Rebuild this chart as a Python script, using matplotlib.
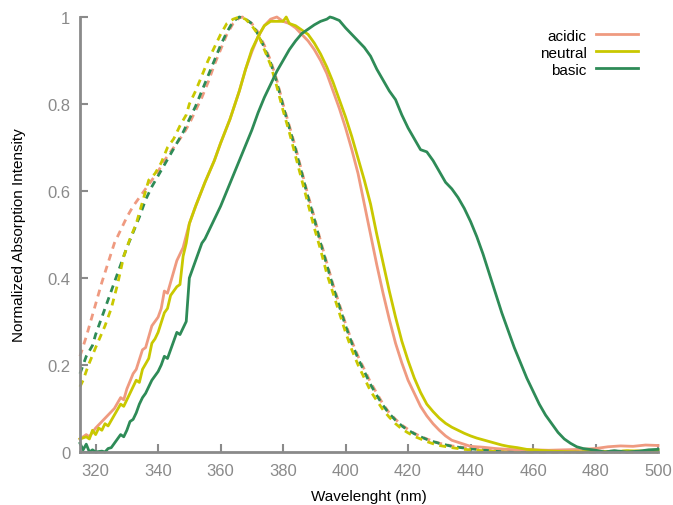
import matplotlib
matplotlib.use("Agg")
import matplotlib.pyplot as plt

plt.rcParams['font.family'] = ['Liberation Sans', 'DejaVu Sans']

# ---- data ----
wl_acid = [315, 317, 318, 320, 322, 324, 326, 328, 329, 330, 332, 333, 335, 336, 338, 340, 341, 342, 343, 344,
           346, 348, 350, 352, 355, 358, 360, 363, 366, 368, 370, 372, 374, 376, 378, 380, 382, 384, 386, 388,
           390, 392, 394, 396, 398, 400, 402, 404, 406, 408, 410, 412, 414, 416, 418, 420, 422, 424, 426, 428,
           430, 432, 434, 437, 440, 444, 448, 452, 456, 460, 465, 470, 475, 480, 484, 488, 492, 496, 500]
acid = [0.03, 0.04, 0.035, 0.055, 0.07, 0.085, 0.10, 0.125, 0.12, 0.145, 0.18, 0.19, 0.235, 0.24, 0.29, 0.31, 0.33, 0.37, 0.365, 0.39,
        0.44, 0.47, 0.525, 0.565, 0.62, 0.67, 0.71, 0.765, 0.83, 0.88, 0.92, 0.955, 0.98, 0.995, 1.0, 0.99, 0.985, 0.975, 0.96, 0.945,
        0.925, 0.9, 0.87, 0.83, 0.79, 0.745, 0.695, 0.64, 0.57, 0.50, 0.43, 0.365, 0.305, 0.25, 0.205, 0.165, 0.135, 0.105, 0.083, 0.065,
        0.05, 0.037, 0.027, 0.02, 0.013, 0.011, 0.008, 0.006, 0.005, 0.005, 0.004, 0.005, 0.006, 0.008, 0.012, 0.014, 0.013, 0.016, 0.015]

wl_neut = [315, 317, 318, 319, 320, 321, 322, 323, 324, 326, 328, 329, 331, 333, 334, 335, 337, 338, 339, 340,
           342, 343, 344, 345, 346, 347, 348, 349, 350, 352, 355, 358, 360, 363, 366, 368, 370, 372, 374, 376,
           378, 380, 381, 382, 384, 386, 388, 390, 392, 394, 396, 398, 400, 402, 404, 406, 408, 410, 412, 414,
           416, 418, 420, 422, 424, 426, 428, 430, 432, 434, 436, 438, 440, 442, 444, 446, 448, 450, 452, 455,
           458, 462, 466, 470, 475, 480, 485, 490, 495, 500]
neut = [0.03, 0.035, 0.03, 0.05, 0.04, 0.055, 0.05, 0.065, 0.06, 0.085, 0.11, 0.105, 0.135, 0.165, 0.16, 0.19, 0.215, 0.25, 0.26, 0.275,
        0.32, 0.33, 0.36, 0.37, 0.38, 0.385, 0.45, 0.48, 0.525, 0.565, 0.62, 0.67, 0.71, 0.765, 0.83, 0.88, 0.925, 0.955, 0.98, 0.99,
        0.99, 0.99, 1.0, 0.985, 0.98, 0.97, 0.96, 0.94, 0.915, 0.885, 0.85, 0.81, 0.77, 0.725, 0.675, 0.625, 0.57, 0.50, 0.435, 0.37,
        0.31, 0.255, 0.21, 0.17, 0.137, 0.11, 0.093, 0.078, 0.066, 0.057, 0.05, 0.043, 0.037, 0.032, 0.028, 0.024, 0.02, 0.016, 0.013, 0.01,
        0.006, 0.004, 0.002, 0.001, 0.0, 0.002, 0.0, 0.003, 0.002, 0.005]

wl_basic = [315, 316, 317, 318, 319, 320, 322, 323, 324, 325, 326, 327, 328, 329, 330, 331, 332, 333, 334, 335,
            336, 337, 338, 339, 340, 341, 342, 343, 344, 345, 346, 347, 348, 349, 350, 351, 352, 353, 354, 355,
            356, 358, 360, 362, 364, 366, 368, 370, 372, 374, 376, 378, 380, 382, 384, 386, 388, 390, 392, 394,
            395, 396, 398, 400, 402, 404, 406, 408, 410, 412, 414, 416, 418, 420, 422, 424, 426, 428, 430, 432,
            434, 436, 438, 440, 442, 444, 446, 448, 450, 452, 454, 456, 458, 460, 462, 464, 466, 468, 470, 472,
            474, 476, 478, 480, 483, 486, 490, 494, 497, 500]
basic = [0.02, 0.005, 0.018, 0.0, 0.005, 0.0, 0.002, 0.0, 0.008, 0.01, 0.02, 0.03, 0.04, 0.035, 0.05, 0.07, 0.075, 0.09, 0.11, 0.125,
         0.135, 0.15, 0.165, 0.175, 0.185, 0.2, 0.22, 0.215, 0.235, 0.255, 0.275, 0.27, 0.285, 0.30, 0.40, 0.42, 0.44, 0.46, 0.48, 0.49,
         0.505, 0.535, 0.565, 0.6, 0.635, 0.67, 0.705, 0.74, 0.78, 0.815, 0.845, 0.875, 0.9, 0.925, 0.945, 0.962, 0.972, 0.982, 0.99, 0.995,
         1.0, 0.998, 0.992, 0.975, 0.96, 0.945, 0.93, 0.91, 0.88, 0.855, 0.83, 0.81, 0.775, 0.745, 0.72, 0.695, 0.69, 0.67, 0.645, 0.62,
         0.605, 0.585, 0.56, 0.53, 0.495, 0.455, 0.41, 0.365, 0.32, 0.28, 0.24, 0.205, 0.17, 0.14, 0.11, 0.085, 0.065, 0.045, 0.03, 0.02,
         0.012, 0.008, 0.006, 0.004, 0.0, 0.003, 0.0, 0.002, 0.005, 0.006]

wl_acid_d = [315, 317, 318, 320, 322, 324, 326, 328, 330, 332, 334, 336, 338, 340, 342, 344, 346, 348, 350, 352,
             354, 356, 358, 360, 362, 364, 366, 367, 368, 370, 372, 374, 376, 378, 380, 382, 384, 386, 388, 390,
             392, 394, 396, 398, 400, 402, 404, 406, 408, 410, 412, 414, 416, 418, 420, 422, 424, 426, 428, 430,
             434, 438, 442, 446, 450, 455, 460, 470, 480, 490, 500]
acid_d = [0.22, 0.265, 0.29, 0.34, 0.39, 0.435, 0.48, 0.51, 0.54, 0.565, 0.585, 0.605, 0.625, 0.645, 0.67, 0.69, 0.71, 0.73, 0.755, 0.785,
          0.815, 0.85, 0.89, 0.925, 0.96, 0.985, 0.998, 1.0, 0.995, 0.985, 0.965, 0.935, 0.9, 0.855, 0.8, 0.75, 0.7, 0.645, 0.59, 0.54,
          0.485, 0.435, 0.385, 0.34, 0.295, 0.255, 0.22, 0.19, 0.16, 0.135, 0.11, 0.09, 0.075, 0.062, 0.052, 0.043, 0.036, 0.03, 0.025, 0.02,
          0.014, 0.01, 0.007, 0.005, 0.004, 0.003, 0.002, 0.002, 0.002, 0.002, 0.002]

wl_basic_d = [315, 317, 319, 320, 322, 324, 326, 328, 330, 332, 334, 336, 338, 340, 342, 344, 346, 348, 350, 352,
              354, 356, 358, 360, 362, 364, 366, 368, 370, 372, 374, 376, 378, 380, 382, 384, 386, 388, 390, 392,
              394, 396, 398, 400, 402, 404, 406, 408, 410, 412, 414, 416, 418, 420, 422, 424, 426, 428, 430, 434,
              438, 442, 446, 450, 460, 470, 480, 500]
basic_d = [0.18, 0.22, 0.245, 0.27, 0.31, 0.35, 0.39, 0.43, 0.47, 0.505, 0.54, 0.58, 0.61, 0.635, 0.66, 0.685, 0.71, 0.735, 0.765, 0.795,
           0.83, 0.865, 0.9, 0.935, 0.965, 0.99, 1.0, 0.995, 0.985, 0.96, 0.93, 0.895, 0.85, 0.795, 0.745, 0.695, 0.64, 0.585, 0.535, 0.48,
           0.43, 0.38, 0.335, 0.29, 0.25, 0.215, 0.185, 0.155, 0.13, 0.107, 0.088, 0.073, 0.06, 0.05, 0.042, 0.035, 0.029, 0.024, 0.02, 0.013,
           0.009, 0.006, 0.004, 0.003, 0.002, 0.001, 0.001, 0.0]

wl_neut_d = [315, 316, 317.6, 320, 323, 325, 327, 329, 331, 333, 335, 337, 339, 341, 343, 345, 347, 349, 350, 352,
             354, 356, 358, 360, 362, 364, 366, 368, 370, 372, 374, 376, 378, 380, 382, 384, 386, 388, 390, 392,
             394, 396, 398, 400, 402, 404, 406, 408, 410, 412, 414, 416, 418, 420, 422, 424, 426, 428, 430, 434,
             438, 442, 446, 450, 460, 480, 500]
neut_d = [0.15, 0.165, 0.198, 0.24, 0.29, 0.33, 0.385, 0.45, 0.49, 0.525, 0.575, 0.625, 0.64, 0.665, 0.70, 0.72, 0.75, 0.775, 0.80, 0.83,
          0.865, 0.9, 0.93, 0.96, 0.985, 0.995, 1.0, 0.995, 0.98, 0.96, 0.925, 0.89, 0.84, 0.785, 0.735, 0.68, 0.625, 0.57, 0.515, 0.465,
          0.41, 0.365, 0.32, 0.275, 0.235, 0.2, 0.17, 0.14, 0.118, 0.097, 0.08, 0.065, 0.053, 0.044, 0.036, 0.03, 0.024, 0.019, 0.015, 0.01,
          0.006, 0.004, 0.002, 0.001, 0.0, 0.0, 0.0]

labels = ['acidic', 'neutral', 'basic']
x_ticks = [320, 340, 360, 380, 400, 420, 440, 460, 480, 500]
y_ticks = [0, 0.2, 0.4, 0.6, 0.8, 1]
y_tick_labels = ['0', '0.2', '0.4', '0.6', '0.8', '1']

# ---- style ----
c_acid = '#EF9A80'
c_neut = '#C9C800'
c_basic = '#2E8B57'
gray = '#8a8a8a'
lw = 2.0
dash = (2.5, 2.0)

fig = plt.figure(figsize=(6.73, 5.06), dpi=100)
ax = fig.add_axes([80/673, 1-453/506, (658-80)/673, (453-18)/506])

ax.plot(wl_acid_d, acid_d, color=c_acid, lw=lw, dashes=dash, clip_on=False)
ax.plot(wl_basic_d, basic_d, color=c_basic, lw=lw, dashes=dash, clip_on=False)
ax.plot(wl_neut_d, neut_d, color=c_neut, lw=lw, dashes=dash, clip_on=False)
ax.plot(wl_acid, acid, color=c_acid, lw=lw, label=labels[0], clip_on=False)
ax.plot(wl_neut, neut, color=c_neut, lw=lw, label=labels[1], clip_on=False)
ax.plot(wl_basic, basic, color=c_basic, lw=lw, label=labels[2], clip_on=False)

ax.set_xlim(315, 500)
ax.set_ylim(0, 1)
ax.set_xticks(x_ticks)
ax.set_yticks(y_ticks)
ax.set_yticklabels(y_tick_labels)

for s in ['top', 'right']:
    ax.spines[s].set_visible(False)
for s in ['left', 'bottom']:
    ax.spines[s].set_color(gray)
    ax.spines[s].set_linewidth(2)
ax.tick_params(direction='in', length=6, width=1.5, color=gray, labelcolor=gray,
               labelsize=12)
ax.tick_params(axis='y', pad=7)
ax.tick_params(axis='x', pad=8)

ax.set_xlabel('Wavelenght (nm)', fontsize=11, labelpad=8)
ax.set_ylabel('Normalized Absorption Intensity', fontsize=11, labelpad=15)

leg = ax.legend(loc='upper right', bbox_to_anchor=(0.99, 1.005), frameon=False,
                markerfirst=False, fontsize=11, handlelength=2.8,
                handletextpad=0.6, labelspacing=0.2)

fig.savefig('out.png', dpi=100)
